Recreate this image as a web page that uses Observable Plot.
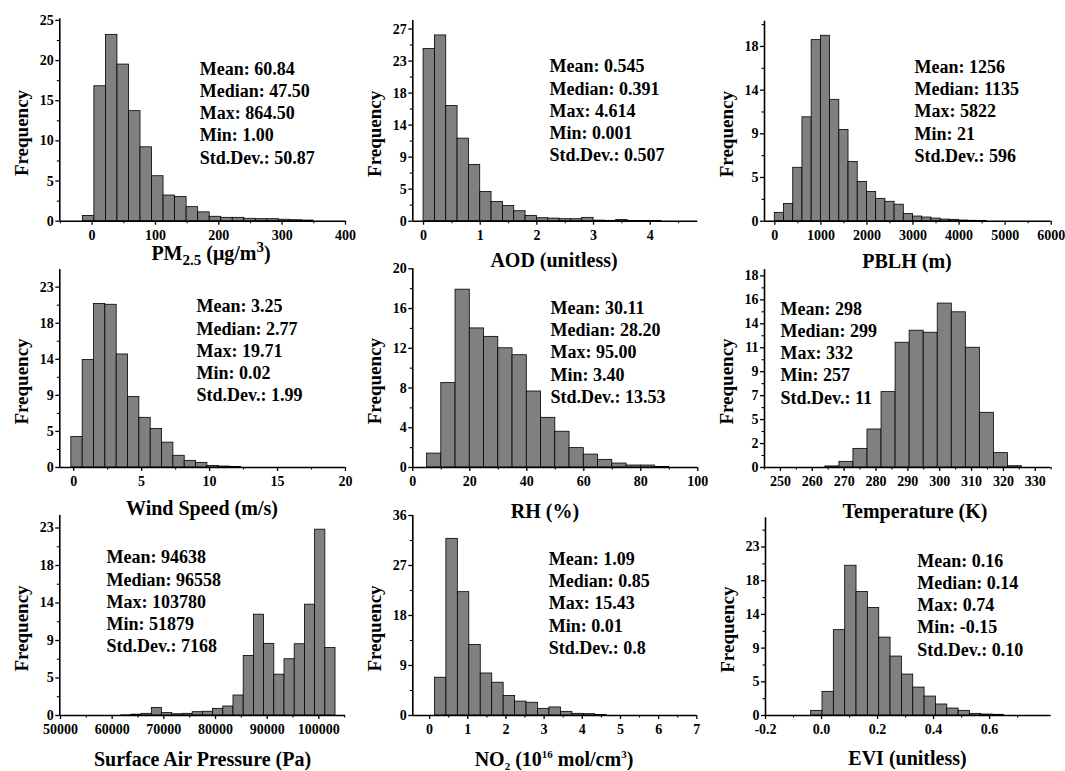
<!DOCTYPE html>
<html><head><meta charset="utf-8">
<script src="https://cdn.jsdelivr.net/npm/d3@7"></script>
<script src="https://cdn.jsdelivr.net/npm/@observablehq/plot@0.6"></script>
<style>
body{margin:0;background:#fff;}
#fig{position:relative;width:1065px;height:771px;overflow:hidden;background:#fff;}
#fig > div{position:absolute;}
</style></head><body><div id="fig"></div>
<script>
// ---------- data ----------
const pm25Freq = [0.66, 16.8, 23.2, 19.5, 13.7, 9.2, 5.6, 3.2, 3.0, 1.75, 1.1, 0.55, 0.42, 0.42, 0.3, 0.25, 0.25, 0.18, 0.12, 0.08];
const aodFreq  = [24.2, 26.1, 16.2, 11.6, 7.9, 4.1, 2.7, 2.15, 1.4, 0.75, 0.42, 0.37, 0.28, 0.28, 0.47, 0.08, 0.05, 0.18, 0.03, 0.02, 0.02];
const pblhFreq = [0.86, 1.78, 5.5, 10.7, 18.65, 19.1, 12.5, 9.4, 6.1, 4.05, 3.0, 2.3, 2.0, 1.7, 0.75, 0.48, 0.38, 0.27, 0.17, 0.14, 0.07, 0.04, 0.03];
const windFreq = [3.8, 13.4, 20.4, 20.3, 14.1, 8.8, 6.2, 4.8, 3.1, 1.46, 0.83, 0.58, 0.2, 0.12, 0.05];
const rhFreq   = [1.4, 8.5, 17.9, 14.0, 13.15, 12.0, 11.3, 7.65, 5.0, 3.6, 1.95, 1.3, 0.77, 0.4, 0.2, 0.2, 0.05];
const tempFreq = [0.1, 0.53, 1.75, 3.57, 7.08, 11.72, 12.85, 12.66, 15.4, 14.58, 11.25, 5.14, 1.35, 0.12];
const presFreq = [0, 0, 0, 0, 0, 0.02, 0.1, 0.2, 0.9, 0.3, 0.15, 0.2, 0.4, 0.45, 0.8, 1.08, 2.4, 7.15, 12.1, 8.6, 4.9, 6.75, 8.55, 13.3, 22.3, 8.1];
const no2Freq  = [6.8, 31.8, 22.2, 12.7, 7.56, 5.9, 3.5, 2.5, 2.3, 1.2, 1.45, 0.66, 0.3, 0.24, 0.1];
const eviFreq  = [0.62, 3.16, 11.4, 20.0, 16.5, 14.35, 10.4, 7.87, 5.47, 3.73, 2.53, 1.47, 0.93, 0.62, 0.22, 0.13, 0.09];

// bin start / width for each histogram
const pm25Bins = [-14.6, 18.2];
const aodBins  = [0, 0.2];
const pblhBins = [0, 200];
const windBins = [-0.17, 0.834];
const rhBins   = [5, 5];
const tempBins = [264.1, 4.41];
const presBins = [51880, 1975];
const no2Bins  = [0.14, 0.3];
const eviBins  = [-0.037, 0.0405];

// statistics text
const pm25Stats = ["Mean: 60.84", "Median: 47.50", "Max: 864.50", "Min: 1.00", "Std.Dev.: 50.87"];
const aodStats  = ["Mean: 0.545", "Median: 0.391", "Max: 4.614", "Min: 0.001", "Std.Dev.: 0.507"];
const pblhStats = ["Mean: 1256", "Median: 1135", "Max: 5822", "Min: 21", "Std.Dev.: 596"];
const windStats = ["Mean: 3.25", "Median: 2.77", "Max: 19.71", "Min: 0.02", "Std.Dev.: 1.99"];
const rhStats   = ["Mean: 30.11", "Median: 28.20", "Max: 95.00", "Min: 3.40", "Std.Dev.: 13.53"];
const tempStats = ["Mean: 298", "Median: 299", "Max: 332", "Min: 257", "Std.Dev.: 11"];
const presStats = ["Mean: 94638", "Median: 96558", "Max: 103780", "Min: 51879", "Std.Dev.: 7168"];
const no2Stats  = ["Mean: 1.09", "Median: 0.85", "Max: 15.43", "Min: 0.01", "Std.Dev.: 0.8"];
const eviStats  = ["Mean: 0.16", "Median: 0.14", "Max: 0.74", "Min: -0.15", "Std.Dev.: 0.10"];

// axis titles: [text, kind]
const pm25Title = [["PM", ""], ["2.5", "sub"], [" (\u03bcg/m", ""], ["3", "sup"], [")", ""]];
const aodTitle  = [["AOD (unitless)", ""]];
const pblhTitle = [["PBLH (m)", ""]];
const windTitle = [["Wind Speed (m/s)", ""]];
const rhTitle   = [["RH (%)", ""]];
const tempTitle = [["Temperature (K)", ""]];
const presTitle = [["Surface Air Pressure (Pa)", ""]];
const no2Title  = [["NO", ""], ["2", "sub"], [" (10", ""], ["16", "sup"], [" mol/cm", ""], ["3", "sup"], [")", ""]];
const eviTitle  = [["EVI (unitless)", ""]];

// ticks and tick labels
const pm25XTicks = [0, 100, 200, 300, 400];           const pm25XLabels = ["0", "100", "200", "300", "400"];
const pm25YTicks = [0, 5, 10, 15, 20, 25];            const pm25YLabels = ["0", "5", "10", "15", "20", "25"];
const aodXTicks  = [0, 1, 2, 3, 4];                    const aodXLabels  = ["0", "1", "2", "3", "4"];
const aodYTicks  = [0, 4.5, 9, 13.5, 18, 22.5, 27];    const aodYLabels  = ["0", "5", "9", "14", "18", "23", "27"];
const pblhXTicks = [0, 1000, 2000, 3000, 4000, 5000, 6000]; const pblhXLabels = ["0", "1000", "2000", "3000", "4000", "5000", "6000"];
const pblhYTicks = [0, 4.5, 9, 13.5, 18];              const pblhYLabels = ["0", "5", "9", "14", "18"];
const windXTicks = [0, 5, 10, 15, 20];                 const windXLabels = ["0", "5", "10", "15", "20"];
const windYTicks = [0, 4.5, 9, 13.5, 18, 22.5];        const windYLabels = ["0", "5", "9", "14", "18", "23"];
const rhXTicks   = [0, 20, 40, 60, 80, 100];           const rhXLabels   = ["0", "20", "40", "60", "80", "100"];
const rhYTicks   = [0, 4, 8, 12, 16, 20];              const rhYLabels   = ["0", "4", "8", "12", "16", "20"];
const tempXTicks = [250, 260, 270, 280, 290, 300, 310, 320, 330]; const tempXLabels = ["250", "260", "270", "280", "290", "300", "310", "320", "330"];
const tempYTicks = [0, 2.25, 4.5, 6.75, 9, 11.25, 13.5, 15.75, 18]; const tempYLabels = ["0", "2", "5", "7", "9", "11", "14", "16", "18"];
const presXTicks = [50000, 60000, 70000, 80000, 90000, 100000]; const presXLabels = ["50000", "60000", "70000", "80000", "90000", "100000"];
const presYTicks = [0, 4.5, 9, 13.5, 18, 22.5];        const presYLabels = ["0", "5", "9", "14", "18", "23"];
const no2XTicks  = [0, 1, 2, 3, 4, 5, 6, 7];           const no2XLabels  = ["0", "1", "2", "3", "4", "5", "6", "7"];
const no2YTicks  = [0, 9, 18, 27, 36];                 const no2YLabels  = ["0", "9", "18", "27", "36"];
const eviXTicks  = [-0.2, 0, 0.2, 0.4, 0.6];           const eviXLabels  = ["-0.2", "0.0", "0.2", "0.4", "0.6"];
const eviYTicks  = [0, 4.5, 9, 13.5, 18, 22.5];        const eviYLabels  = ["0", "5", "9", "14", "18", "23"];

// ---------- layout ----------
const colLeft = [0, 355, 710], rowTop = [0, 257, 514], cellW = 355, cellH = 257;
const FONT = "'Liberation Serif', 'Times New Roman', serif";
const lineGap = 22.3;

const panels = [
  {freq: pm25Freq, bins: pm25Bins, stats: pm25Stats, title: pm25Title, xT: pm25XTicks, xL: pm25XLabels, yT: pm25YTicks, yL: pm25YLabels,
   col: 0, row: 0, frame: [59.3, 345, 18.3, 220.7], xDom: [-51, 400], yDom: [0, 25.2], statsAt: [199.3, 74], titleAt: [211, 260], sub: [15, 5], sup: [15, -8]},
  {freq: aodFreq, bins: aodBins, stats: aodStats, title: aodTitle, xT: aodXTicks, xL: aodXLabels, yT: aodYTicks, yL: aodYLabels,
   col: 1, row: 0, frame: [412.3, 697.3, 20, 220.7], xDom: [-0.19, 4.84], yDom: [0, 28.2], statsAt: [549, 71.7], titleAt: [554, 267]},
  {freq: pblhFreq, bins: pblhBins, stats: pblhStats, title: pblhTitle, xT: pblhXTicks, xL: pblhXLabels, yT: pblhYTicks, yL: pblhYLabels,
   col: 2, row: 0, frame: [764, 1050.7, 20.7, 220.7], xDom: [-224, 6000], yDom: [0, 20.6], statsAt: [914, 72.3], titleAt: [907, 268]},
  {freq: windFreq, bins: windBins, stats: windStats, title: windTitle, xT: windXTicks, xL: windXLabels, yT: windYTicks, yL: windYLabels,
   col: 0, row: 1, frame: [59.3, 345, 269, 467], xDom: [-1.02, 20], yDom: [0, 24.7], statsAt: [196, 311.7], titleAt: [202, 515]},
  {freq: rhFreq, bins: rhBins, stats: rhStats, title: rhTitle, xT: rhXTicks, xL: rhXLabels, yT: rhYTicks, yL: rhYLabels,
   col: 1, row: 1, frame: [412.3, 697.3, 268.3, 467], xDom: [0, 100], yDom: [0, 20], statsAt: [550, 313.3], titleAt: [545, 518]},
  {freq: tempFreq, bins: tempBins, stats: tempStats, title: tempTitle, xT: tempXTicks, xL: tempXLabels, yT: tempYTicks, yL: tempYLabels,
   col: 2, row: 1, frame: [764, 1050.7, 269, 467], xDom: [245, 335], yDom: [0, 18.6], statsAt: [780, 314], titleAt: [915, 518]},
  {freq: presFreq, bins: presBins, stats: presStats, title: presTitle, xT: presXTicks, xL: presXLabels, yT: presYTicks, yL: presYLabels,
   col: 0, row: 2, frame: [59.3, 345, 515, 715], xDom: [49865, 105160], yDom: [0, 24], statsAt: [106, 562.7], titleAt: [202.5, 766]},
  {freq: no2Freq, bins: no2Bins, stats: no2Stats, title: no2Title, xT: no2XTicks, xL: no2XLabels, yT: no2YTicks, yL: no2YLabels,
   col: 1, row: 2, frame: [412.3, 696.3, 515, 715], xDom: [-0.44, 7.0], yDom: [0, 36], statsAt: [548.3, 564.3], titleAt: [554, 766], sub: [11, 4], sup: [11, -8]},
  {freq: eviFreq, bins: eviBins, stats: eviStats, title: eviTitle, xT: eviXTicks, xL: eviXLabels, yT: eviYTicks, yL: eviYLabels,
   col: 2, row: 2, frame: [765, 1050.7, 517.3, 715], xDom: [-0.2, 0.82], yDom: [0, 26.4], statsAt: [916.7, 566], titleAt: [907.5, 765]}
];

// minor ticks halfway between major ticks (and one step beyond, if inside the domain)
function minorTicks(ticks, dom) {
  const step = ticks[1] - ticks[0];
  const out = [];
  for (let i = -1; i < ticks.length; i++) {
    const v = ticks[0] + (i + 0.5) * step;
    if (v >= Math.min(...dom) - 1e-9 && v <= Math.max(...dom) + 1e-9) out.push(v);
  }
  return out;
}

const fig = document.getElementById("fig");

for (const p of panels) {
  const cl = colLeft[p.col], rt = rowTop[p.row];
  const [fx0, fx1, fyt, fyb] = p.frame;
  const ml = fx0 - cl, mr = cl + cellW - fx1, mt = fyt - rt, mb = rt + cellH - fyb;
  const [b0, bw] = p.bins;
  const rows = p.freq.map((v, i) => ({x1: b0 + i * bw, x2: b0 + (i + 1) * bw, v})).filter(d => d.v > 0);
  const fmt = (ticks, labels) => d => {
    const i = ticks.findIndex(t => Math.abs(t - d) < 1e-9);
    return i < 0 ? "" : labels[i];
  };
  const xm = minorTicks(p.xT, p.xDom);
  const ym = minorTicks(p.yT, p.yDom);

  const svg = Plot.plot({
    width: cellW, height: cellH,
    marginLeft: ml, marginRight: mr, marginTop: mt, marginBottom: mb,
    style: {fontFamily: FONT, fontWeight: "bold", fontSize: "14px", background: "transparent", overflow: "visible", color: "#000"},
    x: {type: "linear", domain: p.xDom},
    y: {type: "linear", domain: p.yDom},
    marks: [
      Plot.rect(rows, {x1: "x1", x2: "x2", y1: 0, y2: "v", fill: "#808080", stroke: "#000", strokeWidth: 0.8}),
      Plot.axisX(p.xT, {tickSize: 4, tickPadding: 5, fontSize: 14, strokeWidth: 1.3, tickFormat: fmt(p.xT, p.xL), label: null}),
      Plot.axisX(xm, {tickSize: 2.5, strokeWidth: 1.1, tickFormat: () => "", label: null}),
      Plot.axisY(p.yT, {tickSize: 4, tickPadding: 2, fontSize: 14, strokeWidth: 1.3, tickFormat: fmt(p.yT, p.yL), label: null}),
      Plot.axisY(ym, {tickSize: 2.5, strokeWidth: 1.1, tickFormat: () => "", label: null}),
      Plot.ruleY([0], {stroke: "#000", strokeWidth: 1.6}),
      Plot.ruleX([p.xDom[0]], {stroke: "#000", strokeWidth: 1.6}),
      Plot.text([p.stats.join("\n")], {
        text: d => d, frameAnchor: "top-left", textAnchor: "start", lineAnchor: "bottom",
        dx: p.statsAt[0] - fx0, dy: p.statsAt[1] + 4 * lineGap - fyt,
        fontSize: 18, lineHeight: lineGap / 18, fill: "#000"
      }),
      Plot.text(["Frequency"], {
        text: d => d, frameAnchor: "left", rotate: -90, dx: -38, dy: 13,
        textAnchor: "middle", lineAnchor: "middle", fontSize: 19, fill: "#000"
      })
    ]
  });

  // axis title with sub/superscripts
  const t = d3.select(svg).append("text")
    .attr("x", p.titleAt[0] - cl).attr("y", p.titleAt[1] - rt)
    .attr("text-anchor", "middle").attr("font-size", 20)
    .attr("font-family", FONT).attr("font-weight", "bold").attr("fill", "#000");
  let shift = 0;
  for (const [txt, kind] of p.title) {
    const spec = kind === "sub" ? p.sub : kind === "sup" ? p.sup : null;
    const target = spec ? spec[1] : 0;
    const ts = t.append("tspan").attr("dy", target - shift).text(txt);
    if (spec) ts.attr("font-size", spec[0]);
    shift = target;
  }

  const wrap = document.createElement("div");
  wrap.style.left = cl + "px";
  wrap.style.top = rt + "px";
  wrap.style.width = cellW + "px";
  wrap.style.height = cellH + "px";
  wrap.appendChild(svg);
  fig.appendChild(wrap);
}
</script>
</body></html>
